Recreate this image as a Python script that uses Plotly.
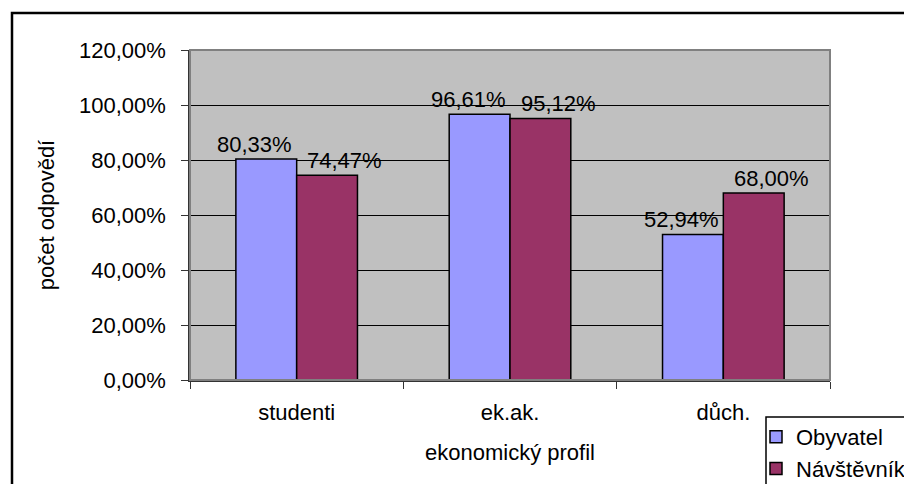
import plotly.graph_objects as go

categories = ["studenti", "ek.ak.", "důch."]
obyvatel = [0.8033, 0.9661, 0.5294]
navstevnik = [0.7447, 0.9512, 0.6800]
series_names = ["Obyvatel", "Návštěvník"]
series_colors = ["#9999FF", "#993366"]

W, H = 912, 484
OFF = 8  # page body margin
PL, PR, PT, PB = 190, 830, 50, 380
L, T = PL - OFF, PT - OFF
R, B = W - (PR - OFF), H - (PB - OFF)
PW, PH = W - L - R, H - T - B

def px(x):
    return (x - OFF - L) / PW

def py(y):
    return (PB - y) / PH

FONT = "Liberation Sans, Arial, sans-serif"
FS = 22

fig = go.Figure()
for name, vals, col in zip(series_names, [obyvatel, navstevnik], series_colors):
    fig.add_trace(go.Bar(
        x=categories, y=vals, name=name,
        marker=dict(color=col, line=dict(color="black", width=1.5)),
        hovertemplate="%{x}: %{y:.2%}<extra>" + name + "</extra>",
    ))

# value labels (offset like the original Excel rendering)
label_shift = [-42, 48]
annotations = []
for vals, xs in zip([obyvatel, navstevnik], label_shift):
    for c, v in zip(categories, vals):
        annotations.append(dict(
            x=c, y=v, xref="x", yref="y", text=f"{v * 100:.2f}%".replace(".", ","),
            showarrow=False, xanchor="center", yanchor="bottom", xshift=xs, yshift=0,
            font=dict(size=FS, family=FONT, color="black"),
        ))

annotations += [
    dict(text="(", xref="paper", yref="paper", x=px(437), y=py(5), xanchor="center",
         yanchor="bottom", showarrow=False, font=dict(size=22, family=FONT, color="#555")),
    dict(text=")", xref="paper", yref="paper", x=px(583), y=py(5), xanchor="center",
         yanchor="bottom", showarrow=False, font=dict(size=22, family=FONT, color="#555")),
]

shapes = [
    dict(type="rect", xref="paper", yref="paper", x0=px(12), x1=px(W + 30),
         y0=py(H + 30), y1=py(13), line=dict(color="black", width=2.5),
         fillcolor="rgba(0,0,0,0)", layer="below"),
    dict(type="rect", xref="paper", yref="paper", x0=0, x1=1, y0=0, y1=1,
         line=dict(color="#808080", width=2), fillcolor="rgba(0,0,0,0)", layer="above"),
    dict(type="rect", xref="paper", yref="paper", x0=px(766), x1=px(W + 30),
         y0=py(H + 30), y1=py(417), line=dict(color="black", width=1.5),
         fillcolor="white", layer="above"),
]

fig.update_layout(
    width=W, height=H,
    margin=dict(l=L, r=R, t=T, b=B, autoexpand=False),
    paper_bgcolor="white", plot_bgcolor="#C0C0C0",
    separators=", ",
    barmode="group", bargap=0.43, bargroupgap=0,
    font=dict(family=FONT, size=FS, color="black"),
    showlegend=True,
    legend=dict(x=px(756), y=py(416), xanchor="left", yanchor="top",
                bgcolor="rgba(0,0,0,0)", borderwidth=0,
                font=dict(size=FS, family=FONT, color="black"),
                itemwidth=30),
    shapes=shapes,
    annotations=annotations,
    xaxis=dict(
        showline=True, linecolor="#333", linewidth=1.5,
        ticks="outside", tickson="boundaries", ticklen=7, tickcolor="#333",
        showgrid=False,
        title=dict(text="ekonomický profil", standoff=20,
                   font=dict(size=FS, family=FONT, color="black")),
        tickfont=dict(size=FS, family=FONT, color="black"),
        ticklabelstandoff=12,
    ),
    yaxis=dict(
        range=[0, 1.2], dtick=0.2, tickformat=".2%",
        showline=True, linecolor="#333", linewidth=1.5,
        ticks="outside", ticklen=7, tickcolor="#333",
        showgrid=True, gridcolor="black", gridwidth=1,
        zeroline=False,
        title=dict(text="počet odpovědí", standoff=18,
                   font=dict(size=FS, family=FONT, color="black")),
        tickfont=dict(size=FS, family=FONT, color="black"),
        ticklabelstandoff=11,
    ),
)

fig.write_html("out.html")
